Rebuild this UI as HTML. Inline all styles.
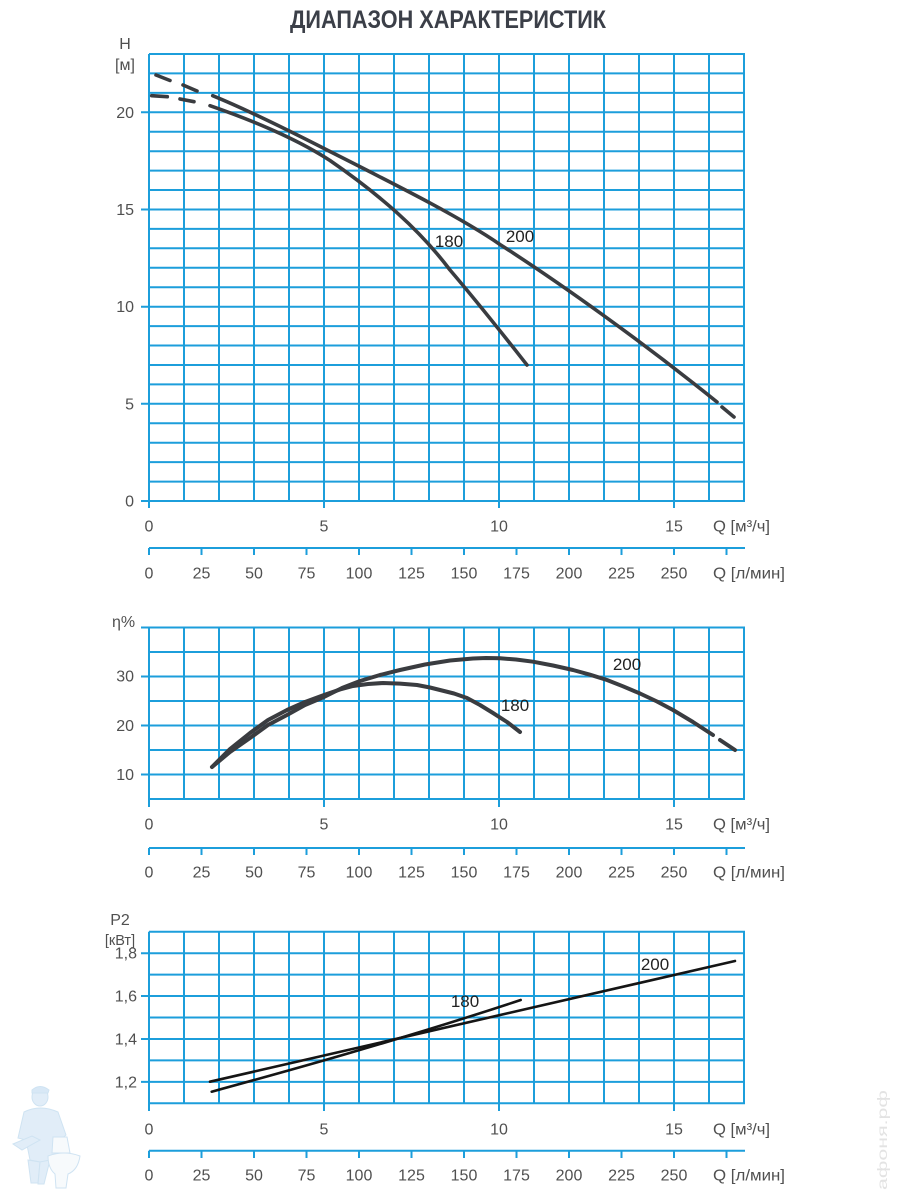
<!DOCTYPE html>
<html>
<head>
<meta charset="utf-8">
<style>
html,body{margin:0;padding:0;background:#fff;}
svg{display:block;}
text{font-family:"Liberation Sans","DejaVu Sans",sans-serif;}
</style>
</head>
<body>
<svg width="900" height="1200" viewBox="0 0 900 1200" xmlns="http://www.w3.org/2000/svg">
<rect width="900" height="1200" fill="#fff"/>

<!-- Title -->
<text x="290" y="28" font-size="25" font-weight="bold" fill="#3b3f48" textLength="316" lengthAdjust="spacingAndGlyphs">ДИАПАЗОН ХАРАКТЕРИСТИК</text>

<!-- ================= TOP CHART: H ================= -->
<g stroke="#1c9edb" stroke-width="2" fill="none">
  <path d="M149 54V508 M184 54V501 M219 54V501 M254 54V501 M289 54V501 M324 54V508 M359 54V501 M394 54V501 M429 54V501 M464 54V501 M499 54V508 M534 54V501 M569 54V501 M604 54V501 M639 54V501 M674 54V508 M709 54V501 M744 54V501"/>
  <path d="M141 501H745 M149 481.6H745 M149 462.1H745 M149 442.7H745 M149 423.3H745 M141 403.8H745 M149 384.4H745 M149 365H745 M149 345.5H745 M149 326.1H745 M141 306.7H745 M149 287.2H745 M149 267.8H745 M149 248.3H745 M149 228.9H745 M141 209.5H745 M149 190H745 M149 170.6H745 M149 151.2H745 M149 131.7H745 M141 112.3H745 M149 92.9H745 M149 73.4H745 M149 54H745"/>
  <path d="M149 548H745 M149 548V555 M201.5 548V555 M254 548V555 M306.5 548V555 M359 548V555 M411.5 548V555 M464 548V555 M516.5 548V555 M569 548V555 M621.5 548V555 M674 548V555 M726.5 548V555"/>
</g>
<g font-size="16" fill="#505050">
  <text x="125" y="49" text-anchor="middle">H</text>
  <text x="125" y="70" text-anchor="middle">[м]</text>
  <g text-anchor="end">
    <text x="134" y="506.5">0</text>
    <text x="134" y="409.3">5</text>
    <text x="134" y="312.2">10</text>
    <text x="134" y="215">15</text>
    <text x="134" y="117.8">20</text>
  </g>
  <g text-anchor="middle">
    <text x="149" y="531.5">0</text>
    <text x="324" y="531.5">5</text>
    <text x="499" y="531.5">10</text>
    <text x="674" y="531.5">15</text>
    <text x="149" y="578.5">0</text>
    <text x="201.5" y="578.5">25</text>
    <text x="254" y="578.5">50</text>
    <text x="306.5" y="578.5">75</text>
    <text x="359" y="578.5">100</text>
    <text x="411.5" y="578.5">125</text>
    <text x="464" y="578.5">150</text>
    <text x="516.5" y="578.5">175</text>
    <text x="569" y="578.5">200</text>
    <text x="621.5" y="578.5">225</text>
    <text x="674" y="578.5">250</text>
  </g>
  <text x="713" y="531.5" textLength="57" lengthAdjust="spacingAndGlyphs">Q [м³/ч]</text>
  <text x="713" y="578.5" textLength="72" lengthAdjust="spacingAndGlyphs">Q [л/мин]</text>
</g>
<g stroke="#3a3c40" stroke-width="3.6" fill="none" stroke-linecap="round" stroke-linejoin="round">
  <path d="M156 75L170 80.5 M183 85L197 91"/>
  <path d="M212.7 95.7 C250 111 290 131 330 151.5 C400 187 460 217 500 244.5 C560 283 640 340 717 402"/>
  <path d="M722 407L734 417"/>
  <path d="M151.7 95.7L167.3 96.7 M180 99L194 101.7"/>
  <path d="M210 105.7 C260 123 300 141 330 160.5 C380 195 420 230 450 270 C480 305 505 337 527 365"/>
</g>
<g font-size="17" fill="#222" text-anchor="middle">
  <text x="449" y="247">180</text>
  <text x="520" y="242">200</text>
</g>

<!-- ================= MIDDLE CHART: eta ================= -->
<g stroke="#1c9edb" stroke-width="2" fill="none">
  <path d="M149 627.5V807 M184 627.5V799 M219 627.5V799 M254 627.5V799 M289 627.5V799 M324 627.5V807 M359 627.5V799 M394 627.5V799 M429 627.5V799 M464 627.5V799 M499 627.5V807 M534 627.5V799 M569 627.5V799 M604 627.5V799 M639 627.5V799 M674 627.5V807 M709 627.5V799 M744 627.5V799"/>
  <path d="M149 799H745 M141 774.5H745 M149 750H745 M141 725.5H745 M149 701H745 M141 676.5H745 M149 652H745 M141 627.5H745"/>
  <path d="M149 848H745 M149 848V855 M201.5 848V855 M254 848V855 M306.5 848V855 M359 848V855 M411.5 848V855 M464 848V855 M516.5 848V855 M569 848V855 M621.5 848V855 M674 848V855 M726.5 848V855"/>
</g>
<g font-size="16" fill="#505050">
  <text x="112" y="627">η%</text>
  <g text-anchor="end">
    <text x="134" y="681.5">30</text>
    <text x="134" y="731">20</text>
    <text x="134" y="780">10</text>
  </g>
  <g text-anchor="middle">
    <text x="149" y="829.5">0</text>
    <text x="324" y="829.5">5</text>
    <text x="499" y="829.5">10</text>
    <text x="674" y="829.5">15</text>
    <text x="149" y="877.5">0</text>
    <text x="201.5" y="877.5">25</text>
    <text x="254" y="877.5">50</text>
    <text x="306.5" y="877.5">75</text>
    <text x="359" y="877.5">100</text>
    <text x="411.5" y="877.5">125</text>
    <text x="464" y="877.5">150</text>
    <text x="516.5" y="877.5">175</text>
    <text x="569" y="877.5">200</text>
    <text x="621.5" y="877.5">225</text>
    <text x="674" y="877.5">250</text>
  </g>
  <text x="713" y="829.5" textLength="57" lengthAdjust="spacingAndGlyphs">Q [м³/ч]</text>
  <text x="713" y="877.5" textLength="72" lengthAdjust="spacingAndGlyphs">Q [л/мин]</text>
</g>
<g stroke="#3a3c40" stroke-width="4" fill="none" stroke-linecap="round" stroke-linejoin="round">
  <polyline points="212,767 230,749 250,733 268,720 287,710 305,702 324,695 340,689.5 353,686 368,684 383,683 400,683.6 417,685 430,687.5 440,690 454,693.5 467,698 480,705 493,713 507,722 520,732"/>
  <polyline points="212,767 230,752 250,738 268,725 287,715 305,705 324,697 342,688 360,681 380,675 400,670 425,664.5 450,660.5 473,658.5 486,658 500,658.3 516,659.5 533,661.7 553,665.5 573,670 590,674.7 607,680 623,686.3 640,693.5 657,701.5 673,710 693,722 713,735"/>
  <path d="M720 740L735 750"/>
</g>
<g font-size="17" fill="#222" text-anchor="middle">
  <text x="627" y="670">200</text>
  <text x="515" y="711">180</text>
</g>

<!-- ================= BOTTOM CHART: P2 ================= -->
<g stroke="#1c9edb" stroke-width="2" fill="none">
  <path d="M149 931.7V1111 M184 931.7V1103.3 M219 931.7V1103.3 M254 931.7V1103.3 M289 931.7V1103.3 M324 931.7V1111 M359 931.7V1103.3 M394 931.7V1103.3 M429 931.7V1103.3 M464 931.7V1103.3 M499 931.7V1111 M534 931.7V1103.3 M569 931.7V1103.3 M604 931.7V1103.3 M639 931.7V1103.3 M674 931.7V1111 M709 931.7V1103.3 M744 931.7V1103.3"/>
  <path d="M149 1103.3H745 M141 1081.9H745 M149 1060.4H745 M141 1039H745 M149 1017.5H745 M141 996H745 M149 974.6H745 M141 953.2H745 M149 931.7H745"/>
  <path d="M149 1150.7H745 M149 1150.7V1158 M201.5 1150.7V1158 M254 1150.7V1158 M306.5 1150.7V1158 M359 1150.7V1158 M411.5 1150.7V1158 M464 1150.7V1158 M516.5 1150.7V1158 M569 1150.7V1158 M621.5 1150.7V1158 M674 1150.7V1158 M726.5 1150.7V1158"/>
</g>
<g font-size="16" fill="#505050">
  <text x="120" y="925" text-anchor="middle">P2</text>
  <text x="120" y="945" text-anchor="middle" font-size="14.5">[кВт]</text>
  <g text-anchor="end">
    <text x="137" y="958.5">1,8</text>
    <text x="137" y="1001.5">1,6</text>
    <text x="137" y="1044.5">1,4</text>
    <text x="137" y="1087.5">1,2</text>
  </g>
  <g text-anchor="middle">
    <text x="149" y="1134.5">0</text>
    <text x="324" y="1134.5">5</text>
    <text x="499" y="1134.5">10</text>
    <text x="674" y="1134.5">15</text>
    <text x="149" y="1180.5">0</text>
    <text x="201.5" y="1180.5">25</text>
    <text x="254" y="1180.5">50</text>
    <text x="306.5" y="1180.5">75</text>
    <text x="359" y="1180.5">100</text>
    <text x="411.5" y="1180.5">125</text>
    <text x="464" y="1180.5">150</text>
    <text x="516.5" y="1180.5">175</text>
    <text x="569" y="1180.5">200</text>
    <text x="621.5" y="1180.5">225</text>
    <text x="674" y="1180.5">250</text>
  </g>
  <text x="713" y="1134.5" textLength="57" lengthAdjust="spacingAndGlyphs">Q [м³/ч]</text>
  <text x="713" y="1180.5" textLength="72" lengthAdjust="spacingAndGlyphs">Q [л/мин]</text>
</g>
<g stroke="#151515" stroke-width="2.6" fill="none" stroke-linecap="round" stroke-linejoin="round">
  <polyline points="210,1081.7 735,961"/>
  <path d="M211.7 1091.7 C280 1073 400 1040 520.7 1000"/>
</g>
<g font-size="17" fill="#222" text-anchor="middle">
  <text x="465" y="1007">180</text>
  <text x="655" y="970">200</text>
</g>

<!-- Mascot (faint) -->
<g opacity="0.55" fill="#c9e0f3" stroke="#a9cde9" stroke-width="1">
  <ellipse cx="40" cy="1097" rx="8" ry="9"/>
  <path d="M32 1090 Q40 1083 49 1090 L48 1093 L32 1093 Z" fill="#b9d7ef"/>
  <path d="M24 1112 Q40 1104 58 1112 L66 1135 L58 1142 L54 1160 L40 1162 L30 1160 L26 1140 L18 1138 Z"/>
  <path d="M13 1144 L32 1136 L40 1140 L22 1150 Z"/>
  <path d="M28 1160 L40 1162 L38 1183 L31 1183 Z"/>
  <path d="M40 1162 L50 1160 L44 1184 L38 1184 Z"/>
  <path d="M53 1137 L67 1137 L70 1153 L52 1153 Z" fill="#f2f7fb"/>
  <path d="M48 1156 Q64 1150 80 1156 Q78 1170 68 1174 L66 1188 L56 1188 L55 1174 Q48 1168 48 1156 Z" fill="#f2f7fb"/>
</g>

<!-- Watermark -->
<text transform="translate(887,1190) rotate(-90)" font-size="14" fill="#e3e3e3" textLength="100" lengthAdjust="spacingAndGlyphs">афоня.рф</text>
</svg>
</body>
</html>
